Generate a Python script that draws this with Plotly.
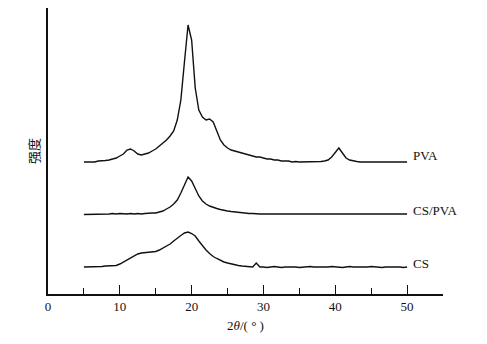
import plotly.graph_objects as go

# 2theta positions (degrees)
two_theta = [5 + 0.5 * i for i in range(91)]

# Intensities (arbitrary units; curves offset vertically)
pva = [132, 132, 132.5, 132, 133, 133, 133.5, 134, 135, 136,
       138, 140, 144, 145, 143, 140, 139, 140, 141, 143,
       145, 148, 151, 154, 158, 163, 174, 194, 232, 269,
       254, 206, 184, 177, 174, 175, 172, 162, 154, 149,
       146, 144, 143, 142, 141, 140, 139, 138, 137, 137,
       136, 135, 135, 134, 134, 133, 133, 133, 132, 132.5,
       132, 132, 132, 132, 132, 132, 132.5, 133, 134, 137,
       142, 146, 141, 136, 134, 133, 132.5, 132,
       132, 132, 132, 132, 132, 132, 132, 132, 132, 132, 132, 132, 132]

cs_pva = [79.5, 79.5, 79.5, 80, 79.5, 80, 80, 80, 80.5, 80,
          80.5, 80, 80, 80.5, 80, 80.5, 80, 80.5, 81, 81,
          81, 82, 83, 85, 87, 90, 94, 101, 109, 117,
          113, 105, 98, 93, 90, 88, 86.5, 85.5, 84.5, 83.5,
          83, 82.5, 82, 81.5, 81, 81, 80.5, 80.5, 80] + [80] * 42

cs = [27, 27, 27, 27.5, 27.5, 27.5, 28, 28, 28,
      28.5, 30, 32, 34.5, 36.5, 38.5, 40, 41, 41.5, 42,
      42, 42.5, 44, 46, 48, 50, 53, 56, 58.5, 61,
      62, 60.5, 58, 53, 48, 44, 40.5, 37.5, 35.5, 33.5,
      32, 31, 30, 29, 28.5, 28, 27.5, 27, 27, 31,
      27] + [27, 26.5, 27, 27.5, 27, 26.5, 27, 27, 27.5, 27,
             26.5, 27, 27, 27.5, 27, 27, 26.5, 27, 27, 27.5,
             27, 27, 26.5, 27, 27.5, 27, 27, 26.5, 27, 27,
             27.5, 27, 27, 26.5, 27, 27, 27.5, 27, 27, 26.5, 27]

labels = ["PVA", "CS/PVA", "CS"]
series = [pva, cs_pva, cs]
label_y = [139, 84, 31]

fig = go.Figure()
for s in series:
    fig.add_trace(go.Scatter(x=two_theta, y=s, mode="lines",
                             line=dict(color="#111111", width=1.4),
                             showlegend=False, hoverinfo="skip"))

for lab, ly in zip(labels, label_y):
    fig.add_annotation(x=50.6, y=ly, xref="x", yref="y", text=lab,
                       showarrow=False, xanchor="left", yanchor="middle",
                       font=dict(family="Liberation Serif", size=13, color="#111"))

fig.add_annotation(x=-0.038, y=(294 - 151) / 286, xref="paper", yref="paper", text="强度",
                   textangle=-90, showarrow=False, xanchor="center", yanchor="middle",
                   font=dict(family="Noto Sans CJK SC", size=13, color="#111"))

fig.update_layout(
    template="none",
    width=487, height=344,
    margin=dict(l=40, r=52, t=0, b=58),
    paper_bgcolor="white", plot_bgcolor="white",
    font=dict(family="Liberation Serif", size=13, color="#111"),
)
fig.update_xaxes(range=[0, 55], showline=True, linecolor="#111", linewidth=1.5,
                 ticks="inside", ticklen=9, tickwidth=1.2, tickcolor="#111",
                 tickvals=[0, 10, 20, 30, 40, 50], showgrid=False, zeroline=False,
                 minor=dict(tickvals=[5, 15, 25, 35, 45, 55], ticks="inside", ticklen=6,
                            tickwidth=1.2, tickcolor="#111", showgrid=False),
                 tickfont=dict(family="Liberation Serif", size=13, color="#111"),
                 title=dict(text="2<i>θ</i>/( ° )", standoff=8,
                            font=dict(family="Liberation Serif", size=13, color="#111")))
fig.update_yaxes(range=[0, 286], showline=True, linecolor="#111", linewidth=1.5,
                 showticklabels=False, ticks="", showgrid=False, zeroline=False)

fig.write_html("out.html")
